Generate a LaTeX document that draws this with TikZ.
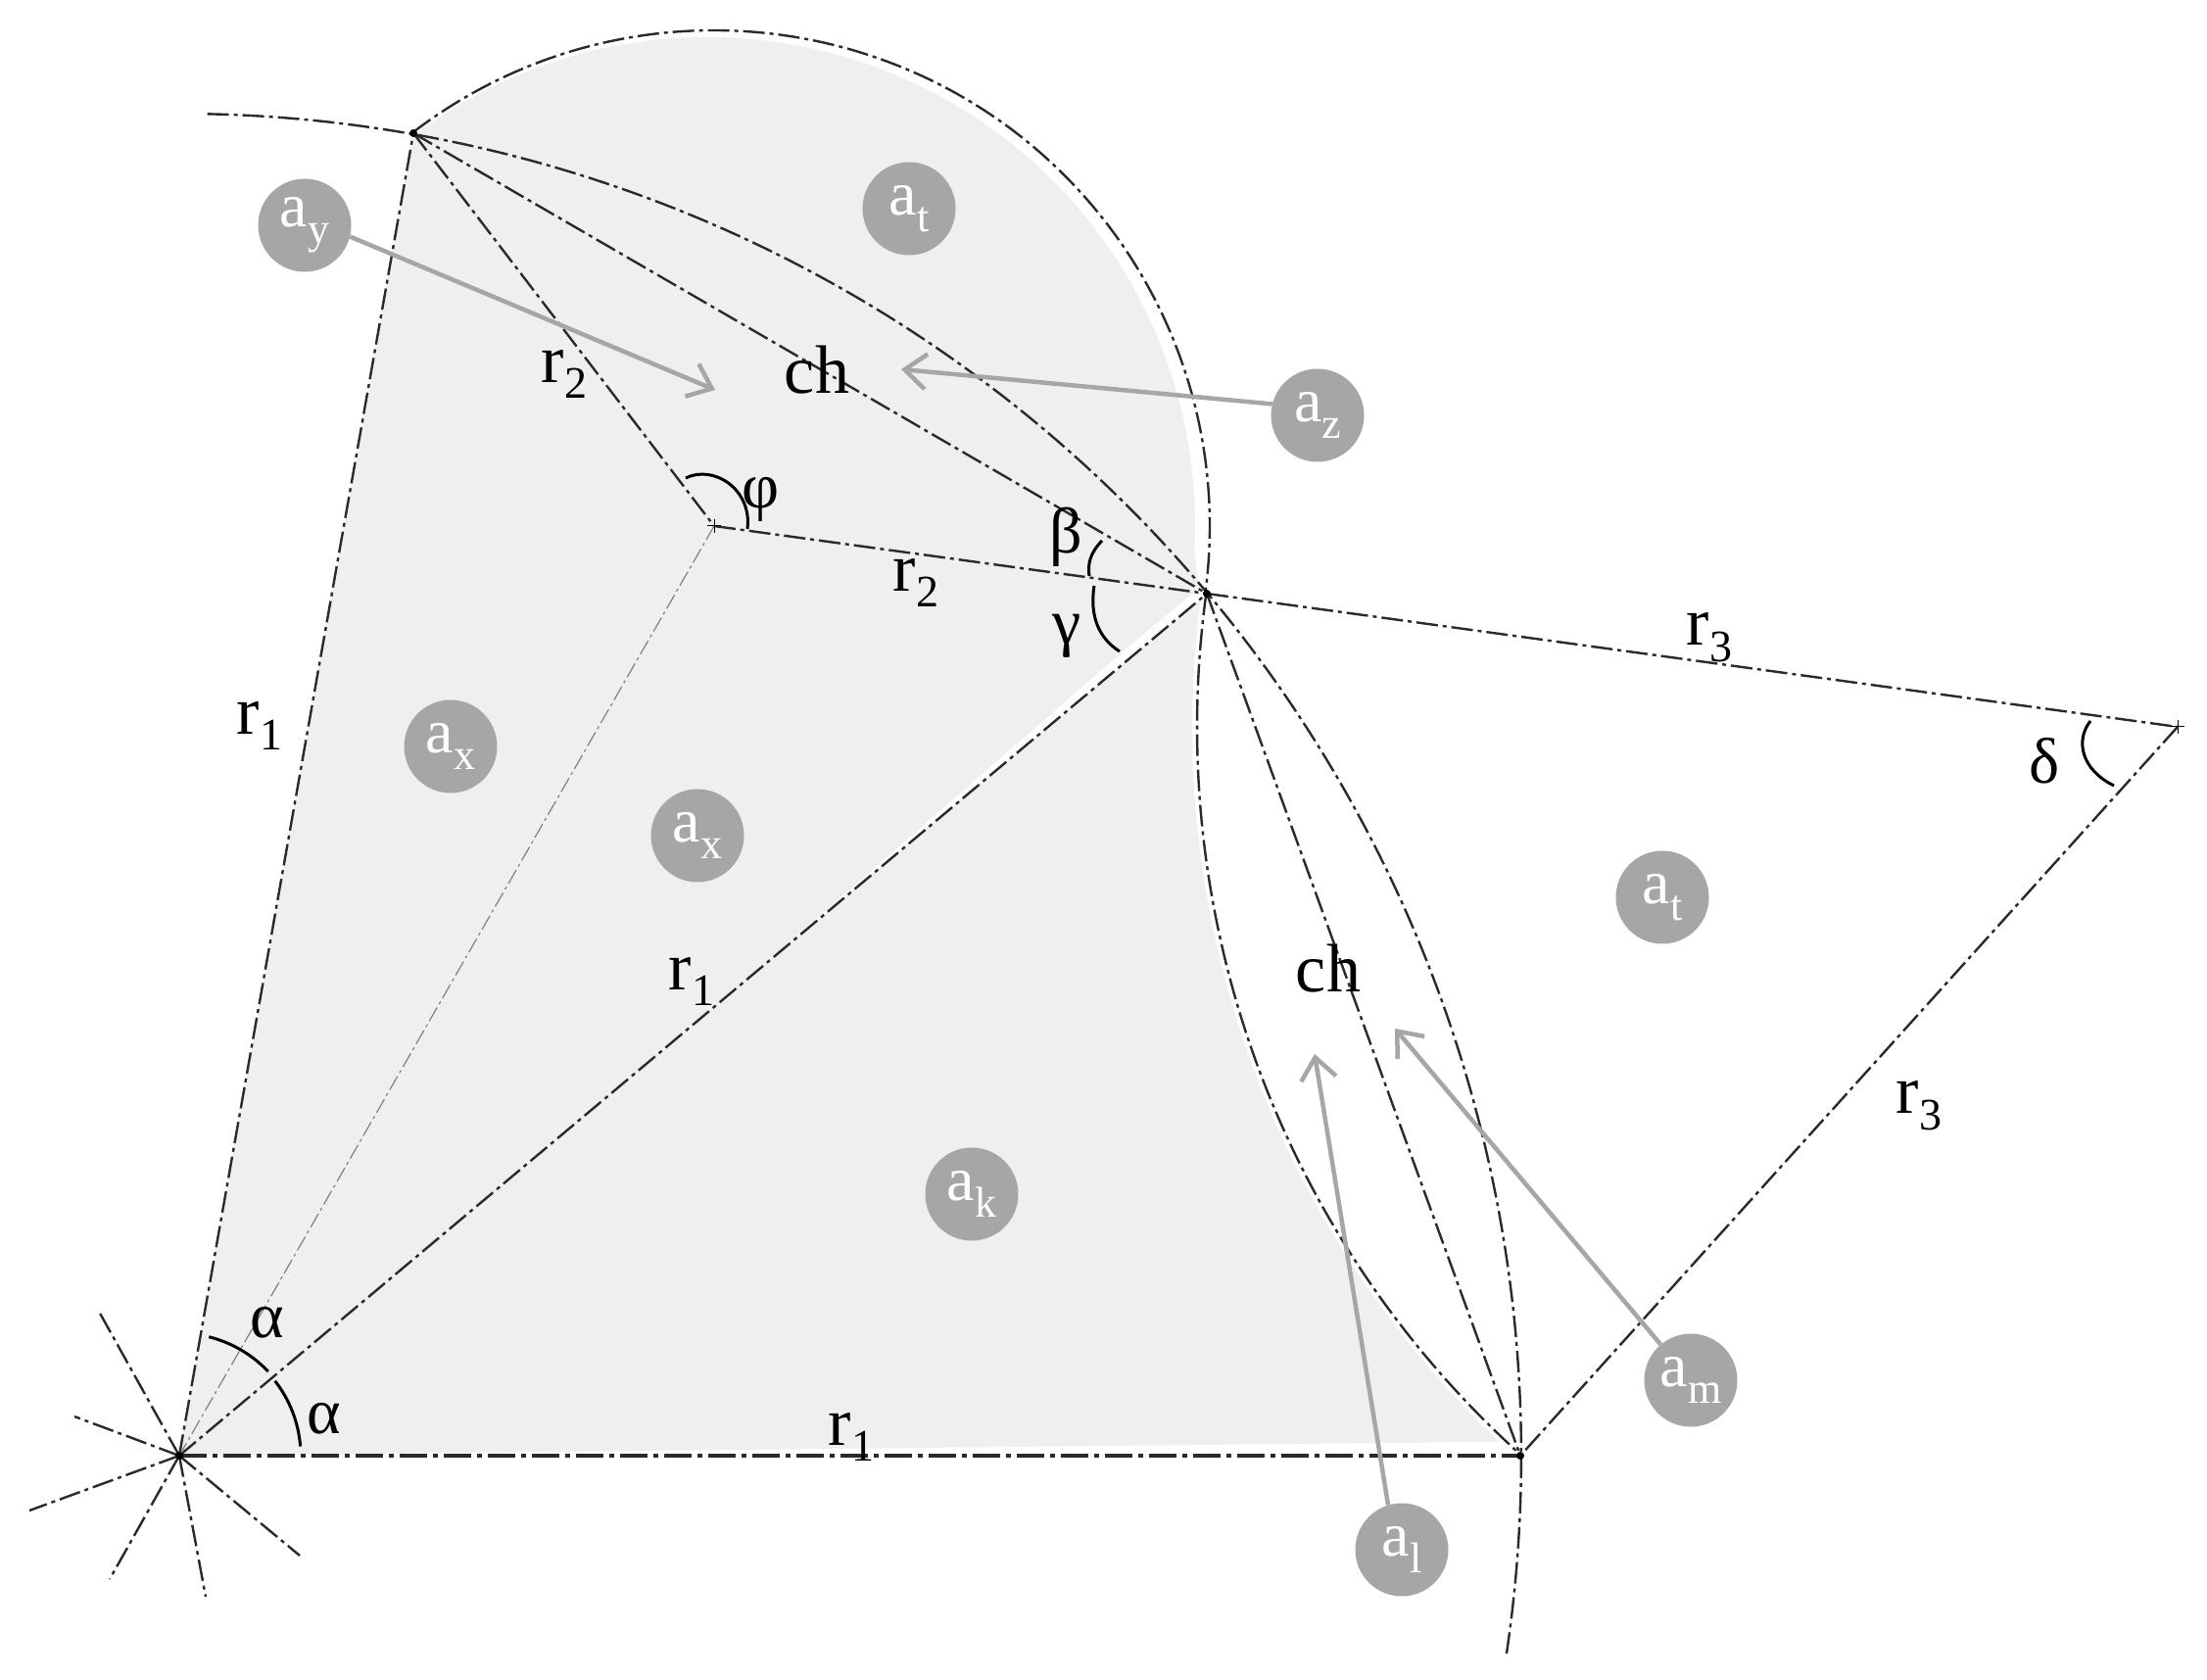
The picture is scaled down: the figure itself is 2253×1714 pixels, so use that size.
\documentclass[tikz,border=0pt]{standalone}
\usepackage{fontspec}
\setmainfont{Liberation Serif}
\usetikzlibrary{arrows.meta}
\definecolor{regionfill}{HTML}{EFEFEF}
\definecolor{bubble}{HTML}{A6A6A6}
\definecolor{ink}{HTML}{2A2A2A}
\newcommand{\bigsz}{\fontsize{70}{72}\selectfont}
\newcommand{\subsz}{\fontsize{46}{46}\selectfont}
\newcommand{\bubsz}{\fontsize{64}{66}\selectfont}
\newcommand{\bubsubsz}{\fontsize{44}{44}\selectfont}
\newcommand{\rlab}[1]{r\raisebox{-.24em}{\subsz #1}}
\newcommand{\alab}[1]{a\raisebox{-.26em}{\bubsubsz #1}}
\tikzset{
  x=1pt,y=1pt,
  dd/.style={draw=ink,line width=2.4pt,dash pattern=on 22pt off 5pt on 4pt off 5pt},
  ddheavy/.style={draw=ink,line width=3.4pt,dash pattern=on 28pt off 6pt on 5pt off 6pt},
  ddthin/.style={draw=gray,line width=1.2pt,dash pattern=on 16pt off 4pt on 3pt off 4pt},
  anglearc/.style={draw=black,line width=3pt},
  pointer/.style={draw=bubble,line width=4.5pt,-{Straight Barb[length=22pt,width=36pt,line width=4.5pt]}},
  bubblenode/.style={circle,fill=bubble,text=white,minimum size=95pt,inner sep=0pt,font=\bubsz},
  lab/.style={inner sep=0pt,text=black,font=\bigsz},
  gk/.style={inner sep=0pt,text=black,font=\fontsize{66}{68}\selectfont},
}
\begin{document}
\begin{tikzpicture}
\useasboundingbox (0,0) rectangle (2253,1714);
\fill[white] (0,0) rectangle (2253,1714);
% key points
\coordinate (O) at (183,228);
\coordinate (A) at (422,1578);
\coordinate (C) at (1232,1108);
\coordinate (B) at (1552,228);
\coordinate (D) at (2223,972);
\coordinate (E) at (729,1177);
\coordinate (FE) at (722,1178);
% shaded region
\fill[regionfill] (O) -- (A) -- ([shift={(127:498)}]FE) arc[start angle=127,end angle=-3,radius=498]
  -- (1224,1112) -- ([shift={(172.6:1006)}]D) arc[start angle=172.6,end angle=226.5,radius=1006] -- cycle;
\fill[white] (770,721) -- (1150,1052) -- (1222,1112) -- (1226,1103) -- cycle;
% arcs
\draw[dd] ([shift={(88.8:1370)}]O) arc[start angle=88.8,end angle=-8.55,radius=1370];
\draw[dd] ([shift={(127.4:506)}]E) arc[start angle=127.4,end angle=-7.8,radius=506];
\draw[dd] ([shift={(172.2:1001)}]D) arc[start angle=172.2,end angle=227.96,radius=1001];
% straight construction lines
\draw[dd] (O) -- (A);
\draw[dd] (O) -- (C);
\draw[ddheavy] (O) -- (B);
\draw[dd] (A) -- (E);
\draw[dd] (E) -- (C);
\draw[dd] (A) -- (C);
\draw[dd] (C) -- (B);
\draw[dd] (C) -- (D);
\draw[dd] (D) -- (B);
\draw[ddthin] (E) -- (O);
% star at the centre
\foreach \dx/\dy in {-83/149,-107/40,-153/-56,-71/-126,27/-144,123/-102}
  \draw[dd] (O) -- ++(\dx,\dy);
% points
\foreach \p in {O,A,C,B} \fill[black] (\p) circle (4);
\foreach \p in {E,D} {
  \draw[black,line width=1pt] ([xshift=-7pt]\p) -- ([xshift=7pt]\p);
  \draw[black,line width=1pt] ([yshift=-7pt]\p) -- ([yshift=7pt]\p);
}
% angle marks
\draw[anglearc] ([shift={(76:125)}]O) arc[start angle=76,end angle=43.4,radius=125];
\draw[anglearc] ([shift={(38:124)}]O) arc[start angle=38,end angle=4.4,radius=124];
\draw[anglearc] (700,1226) .. controls (728,1240) and (768,1215) .. (763,1174);
\draw[anglearc] (1125,1162) .. controls (1113,1150) and (1110,1138) .. (1112,1126);
\draw[anglearc] (1117,1116) .. controls (1112,1085) and (1122,1062) .. (1143,1049);
\draw[anglearc] (2134,978) .. controls (2118,958) and (2125,928) .. (2158,912);
% bubbles
\node[bubblenode] (ay) at (311,1484) {\alab{y}};
\node[bubblenode] (at1) at (928,1501) {\alab{t}};
\node[bubblenode] (az) at (1345,1290) {\alab{z}};
\node[bubblenode] (ax1) at (460,952) {\alab{x}};
\node[bubblenode] (ax2) at (712,861) {\alab{x}};
\node[bubblenode] (ak) at (992,495) {\alab{k}};
\node[bubblenode] (at2) at (1697,798) {\alab{t}};
\node[bubblenode] (am) at (1726,305) {\alab{m}};
\node[bubblenode] (al) at (1431,132) {\alab{l}};
% pointers
\coordinate (ayend) at (730,1316);
\coordinate (azend) at (920,1337);
\coordinate (alend) at (1342,638);
\coordinate (amend) at (1424,664);
\draw[pointer] (ay.-14) -- (ayend);
\draw[pointer] (az.166) -- (azend);
\draw[pointer] (al.107) -- (alend);
\draw[pointer] (am) -- (amend);
% labels
\node[lab] (l1) at (576,1332) {\rlab{2}};
\node[lab] (l2) at (834,1336) {ch};
\node[gk] (l3) at (777,1204) {φ};
\node[gk] (l4) at (1088,1166) {β};
\node[lab] (l5) at (935,1119) {\rlab{2}};
\node[gk] (l6) at (1089,1065) {γ};
\node[lab] (l7) at (1745,1063) {\rlab{3}};
\node[gk] (l8) at (2087,937) {δ};
\node[lab] (l9) at (265,973) {\rlab{1}};
\node[lab] (l10) at (706,712) {\rlab{1}};
\node[lab] (l11) at (1356,725) {ch};
\node[lab] (l12) at (1959,585) {\rlab{3}};
\node[gk] (l13) at (273,364) {α};
\node[gk] (l14) at (331,266) {α};
\node[lab] (l15) at (869,247) {\rlab{1}};
\end{tikzpicture}
\end{document}
